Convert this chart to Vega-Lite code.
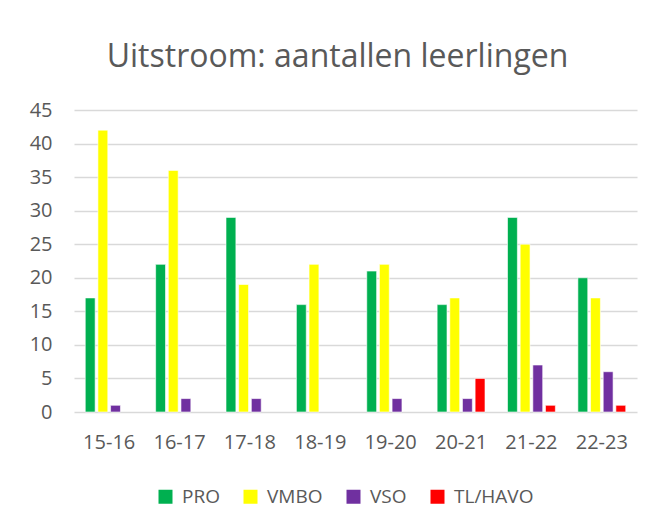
{
  "$schema": "https://vega.github.io/schema/vega-lite/v6.json",
  "width": 563,
  "height": 302,
  "autosize": {"type": "none"},
  "padding": {"left": 74, "top": 110, "right": 17, "bottom": 116},
  "background": "white",
  "title": {
    "text": "Uitstroom: aantallen leerlingen",
    "font": "Open Sans",
    "fontSize": 32,
    "fontWeight": "normal",
    "color": "#595959",
    "anchor": "middle",
    "dx": -18,
    "offset": 26
  },
  "data": {
    "values": [
      {"jaar": "15-16", "type": "PRO", "aantal": 17},
      {"jaar": "15-16", "type": "VMBO", "aantal": 42},
      {"jaar": "15-16", "type": "VSO", "aantal": 1},
      {"jaar": "16-17", "type": "PRO", "aantal": 22},
      {"jaar": "16-17", "type": "VMBO", "aantal": 36},
      {"jaar": "16-17", "type": "VSO", "aantal": 2},
      {"jaar": "17-18", "type": "PRO", "aantal": 29},
      {"jaar": "17-18", "type": "VMBO", "aantal": 19},
      {"jaar": "17-18", "type": "VSO", "aantal": 2},
      {"jaar": "18-19", "type": "PRO", "aantal": 16},
      {"jaar": "18-19", "type": "VMBO", "aantal": 22},
      {"jaar": "19-20", "type": "PRO", "aantal": 21},
      {"jaar": "19-20", "type": "VMBO", "aantal": 22},
      {"jaar": "19-20", "type": "VSO", "aantal": 2},
      {"jaar": "20-21", "type": "PRO", "aantal": 16},
      {"jaar": "20-21", "type": "VMBO", "aantal": 17},
      {"jaar": "20-21", "type": "VSO", "aantal": 2},
      {"jaar": "20-21", "type": "TL/HAVO", "aantal": 5},
      {"jaar": "21-22", "type": "PRO", "aantal": 29},
      {"jaar": "21-22", "type": "VMBO", "aantal": 25},
      {"jaar": "21-22", "type": "VSO", "aantal": 7},
      {"jaar": "21-22", "type": "TL/HAVO", "aantal": 1},
      {"jaar": "22-23", "type": "PRO", "aantal": 20},
      {"jaar": "22-23", "type": "VMBO", "aantal": 17},
      {"jaar": "22-23", "type": "VSO", "aantal": 6},
      {"jaar": "22-23", "type": "TL/HAVO", "aantal": 1}
    ]
  },
  "mark": {"type": "bar", "stroke": "white", "strokeWidth": 0.6},
  "encoding": {
    "x": {
      "field": "jaar",
      "type": "nominal",
      "sort": null,
      "scale": {"paddingInner": 0.32, "paddingOuter": 0.16},
      "axis": {
        "title": null,
        "labelAngle": 0,
        "domain": false,
        "ticks": false,
        "labelPadding": 20,
        "labelFont": "Open Sans",
        "labelFontSize": 20,
        "labelColor": "#595959"
      }
    },
    "xOffset": {
      "field": "type",
      "type": "nominal",
      "sort": ["PRO", "VMBO", "VSO", "TL/HAVO"],
      "scale": {"domain": ["PRO", "VMBO", "VSO", "TL/HAVO"], "paddingInner": 0.22}
    },
    "y": {
      "field": "aantal",
      "type": "quantitative",
      "scale": {"domain": [0, 45], "nice": false},
      "axis": {
        "title": null,
        "values": [0, 5, 10, 15, 20, 25, 30, 35, 40, 45],
        "domain": false,
        "ticks": false,
        "labelPadding": 22,
        "labelFont": "Open Sans",
        "labelFontSize": 20,
        "labelColor": "#595959",
        "gridColor": "#D9D9D9",
        "gridWidth": 1.5
      }
    },
    "color": {
      "field": "type",
      "type": "nominal",
      "scale": {
        "domain": ["PRO", "VMBO", "VSO", "TL/HAVO"],
        "range": ["#00B050", "#FFFF00", "#7030A0", "#FF0000"]
      },
      "legend": {
        "title": null,
        "orient": "none",
        "direction": "horizontal",
        "legendX": 82,
        "legendY": 377,
        "symbolType": "square",
        "symbolSize": 196,
        "symbolStrokeWidth": 0,
        "labelFont": "Open Sans",
        "labelFontSize": 19,
        "labelColor": "#595959",
        "labelOffset": 7,
        "columnPadding": 21
      }
    }
  },
  "config": {
    "view": {"stroke": null}
  }
}
